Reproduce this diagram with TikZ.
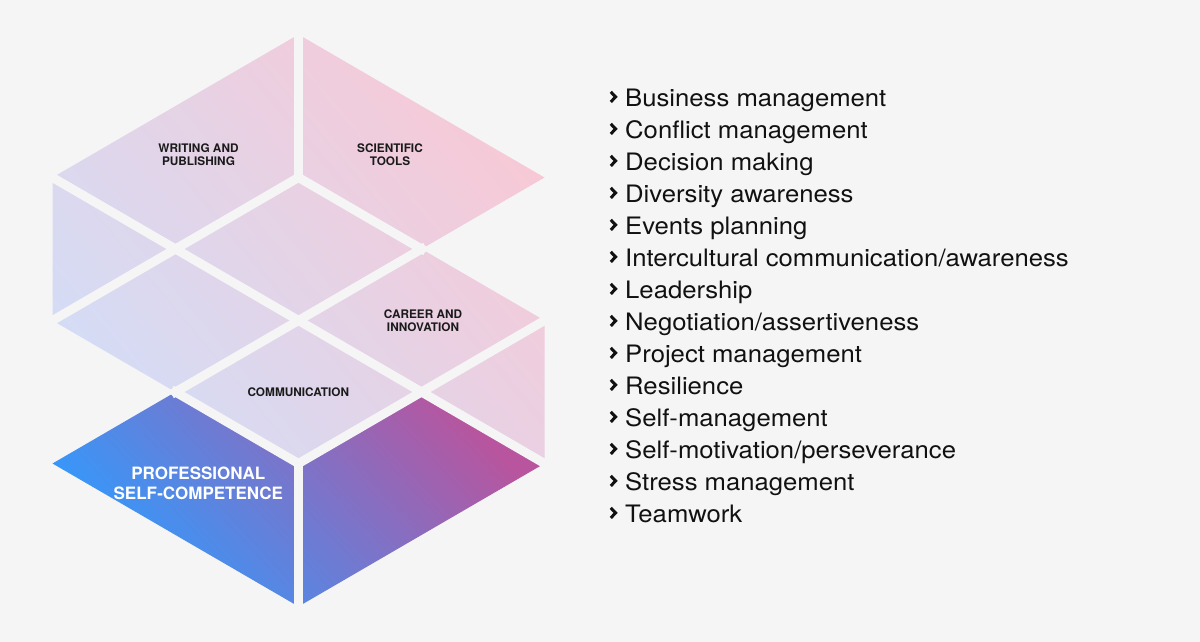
\documentclass[tikz,border=0pt]{standalone}
\usepackage{fontspec}
\setmainfont{TeX Gyre Heros}
\newfontfamily\listfont[FakeStretch=1.07]{TeX Gyre Heros}
\definecolor{bg}{HTML}{F5F5F5}
\definecolor{palepink}{HTML}{F7C9D6}
\definecolor{palelav}{HTML}{D4DCF5}
\definecolor{blueA}{HTML}{2F9BFF}
\definecolor{magB}{HTML}{B8559E}
\definecolor{lbltext}{HTML}{1A1A1A}
\definecolor{listtext}{HTML}{111111}
\begin{document}
\begin{tikzpicture}[x=1pt,y=-1pt,
  gap/.style={draw=bg,line width=9pt,line cap=rect},
  lbl/.style={font=\bfseries\fontsize{11.8}{13}\selectfont,text=lbltext,align=center,inner sep=0pt},
  biglbl/.style={font=\bfseries\fontsize{17}{20}\selectfont,text=white,align=center,inner sep=0pt},
  item/.style={anchor=base west,inner sep=0pt,font=\listfont\fontsize{24}{28}\selectfont,text=listtext},
  chev/.style={draw=listtext,line width=3pt,line join=miter}
]
\useasboundingbox (0,0) rectangle (1200,642);
\fill[bg] (0,0) rectangle (1200,642);
% isometric grid points
\foreach \i in {-2,...,2}{
  \foreach \k in {0,...,8}{
    \coordinate (g\i x\k) at ({298.5+123*\i},{34.5+71.5*\k});
  }
}
% pale pieces
\shade[top color=palepink,bottom color=palelav,shading angle=-50]
  (g0x0)--(g-2x2)--(g-1x3)--(g0x2)--cycle
  (g0x0)--(g2x2)--(g1x3)--(g0x2)--cycle
  (g0x2)--(g-1x3)--(g0x4)--(g1x3)--cycle
  (g-2x2)--(g-1x3)--(g-2x4)--cycle
  (g-1x3)--(g-2x4)--(g-1x5)--(g0x4)--cycle
  (g1x3)--(g0x4)--(g1x5)--(g2x4)--cycle
  (g0x4)--(g-1x5)--(g0x6)--(g1x5)--cycle
  (g2x4)--(g1x5)--(g2x6)--cycle;
% coloured pieces
\shade[top color=magB,bottom color=blueA,shading angle=-47]
  (g-1x5)--(g-2x6)--(g0x8)--(g0x6)--cycle
  (g0x6)--(g1x5)--(g2x6)--(g0x8)--cycle;
% gaps
\draw[gap] (g0x0)--(g0x2);
\draw[gap] (g0x6)--(g0x8);
\draw[gap] (g-2x2)--(g2x6);
\draw[gap] (g0x2)--(g1x3);
\draw[gap] (g-1x5)--(g0x6);
\draw[gap] (g0x2)--(g-2x4);
\draw[gap] (g1x3)--(g-1x5);
\draw[gap] (g2x4)--(g0x6);
% labels
\node[lbl] (wp) at (198.5,154.5) {WRITING AND\\PUBLISHING};
\node[lbl] (st) at (390,154.5) {SCIENTIFIC\\TOOLS};
\node[lbl] (ci) at (423,320.5) {CAREER AND\\INNOVATION};
\node[lbl] (cm) at (298.3,392) {COMMUNICATION};
\node[biglbl] (ps) at (198.3,483) {PROFESSIONAL\\SELF-COMPETENCE};
% list
\foreach \t [count=\n from 0] in {Business management,Conflict management,Decision making,Diversity awareness,Events planning,Intercultural communication/awareness,Leadership,Negotiation/assertiveness,Project management,Resilience,Self-management,Self-motivation/perseverance,Stress management,Teamwork}{
  \node[item] (it\n) at (625,{106.5+32*\n}) {\t};
  \draw[chev] (610.8,{106.5+32*\n-14.6}) -- (615.6,{106.5+32*\n-9.6}) -- (610.8,{106.5+32*\n-4.6});
}
\end{tikzpicture}
\end{document}
